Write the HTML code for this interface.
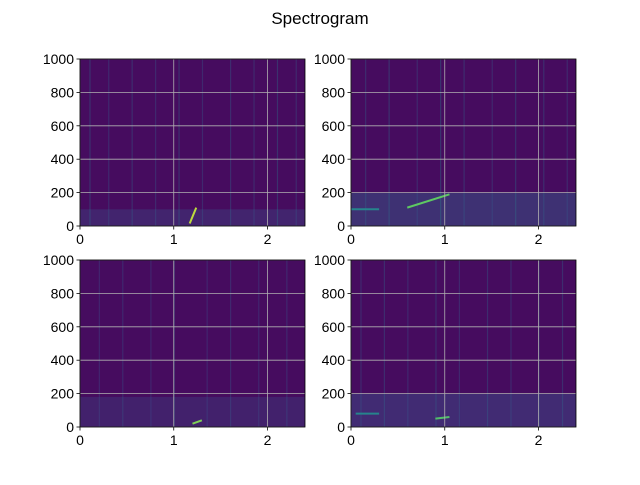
<!DOCTYPE html>
<html><head><meta charset="utf-8"><style>
body{margin:0;background:#fff;}
svg text{font-family:"Liberation Sans",Arial,sans-serif;}
</style></head><body>
<svg id="fig" width="640" height="480" viewBox="0 0 640 480">
<text x="320" y="24" font-size="17" text-anchor="middle">Spectrogram</text>
<g id="panels"></g>
</svg>
<script>
// data
const xTicks=[0,1,2];
const yTicks=[0,200,400,600,800,1000];
const xMax=2.4, yMax=1000;
const streakTimes=[[0.1,0.3,0.55,0.8,1.05,1.3,1.6,1.85,2.1,2.3],[0.15,0.4,0.7,0.95,1.2,1.5,1.75,2.05,2.3],[0.2,0.45,0.75,1.0,1.35,1.6,1.9,2.2],[0.1,0.35,0.6,0.9,1.15,1.45,1.7,2.0,2.25]];
const streakLevels=[[0.4,0.3,0.35,0.3,0.4,0.3,0.35,0.3,0.4,0.3],[0.35,0.4,0.3,0.45,0.35,0.3,0.4,0.35,0.3],[0.25,0.3,0.25,0.35,0.25,0.3,0.25,0.3],[0.3,0.35,0.3,0.35,0.3,0.35,0.3,0.3,0.35]];
const bandTop=[100,200,180,200];
const bandLevel=[0.2,0.3,0.18,0.25];
const chirps=[[[1.17,15,1.24,110,0.9]],[[0.6,110,1.05,190,0.75],[0,100,0.3,100,0.45]],[[1.2,20,1.3,40,0.8]],[[0.9,50,1.05,60,0.7],[0.05,80,0.3,80,0.45]]];
const panels=[[80,59],[351,59],[80,260],[351,260]];
const W=225,H=167;
function viridis(v){const c=[[68,1,84],[59,82,139],[33,145,140],[94,201,98],[253,231,37]];
 v=Math.max(0,Math.min(1,v))*4;const i=Math.min(3,Math.floor(v)),f=v-i;
 return 'rgb('+c[i].map((a,k)=>Math.round(a+(c[i+1][k]-a)*f)).join(',')+')';}
const NS='http://www.w3.org/2000/svg';
function el(t,a,p){const e=document.createElementNS(NS,t);for(const k in a)e.setAttribute(k,a[k]);p.appendChild(e);return e;}
const root=document.getElementById('panels');
panels.forEach((p,pi)=>{
 const [ox,oy]=p;
 const sx=t=>ox+t/xMax*W, sy=f=>oy+H-f/yMax*H;
 const g=el('g',{},root);
 
 
 const bg=el('rect',{x:ox,y:oy,width:W,height:H,fill:'rgb(70,12,95)'},g);
 
 
 const band=el('rect',{x:ox,y:sy(bandTop[pi]),width:W,height:sy(0)-sy(bandTop[pi]),fill:viridis(bandLevel[pi]),opacity:0.45},g);
 
 
 streakTimes[pi].forEach((t,i)=>{
  const s=el('rect',{x:sx(t),y:oy,width:1.2,height:H,fill:viridis(streakLevels[pi][i]),opacity:0.35},g);
  
  
 });
 chirps[pi].forEach(c=>{
  const l=el('line',{x1:sx(c[0]),y1:sy(c[1]),x2:sx(c[2]),y2:sy(c[3]),stroke:viridis(c[4]),'stroke-width':2},g);
  
  
 });
 xTicks.forEach(t=>{
  el('line',{x1:sx(t),y1:oy,x2:sx(t),y2:oy+H,stroke:'#b0b0b0','stroke-width':0.8},g);
  el('line',{x1:sx(t),y1:oy+H,x2:sx(t),y2:oy+H+3.5,stroke:'#000','stroke-width':0.8},g);
  const tx=el('text',{x:sx(t),y:oy+H+18,'font-size':14,'text-anchor':'middle'},g);tx.textContent=t;
  
  
 });
 yTicks.forEach(f=>{
  el('line',{x1:ox,y1:sy(f),x2:ox+W,y2:sy(f),stroke:'#b0b0b0','stroke-width':0.8},g);
  el('line',{x1:ox-3.5,y1:sy(f),x2:ox,y2:sy(f),stroke:'#000','stroke-width':0.8},g);
  const tx=el('text',{x:ox-6,y:sy(f)+5,'font-size':14,'text-anchor':'end'},g);tx.textContent=f;
  
  
 });
 el('rect',{x:ox,y:oy,width:W,height:H,fill:'none',stroke:'#000','stroke-width':0.8},g);
});
</script>
</body></html>
